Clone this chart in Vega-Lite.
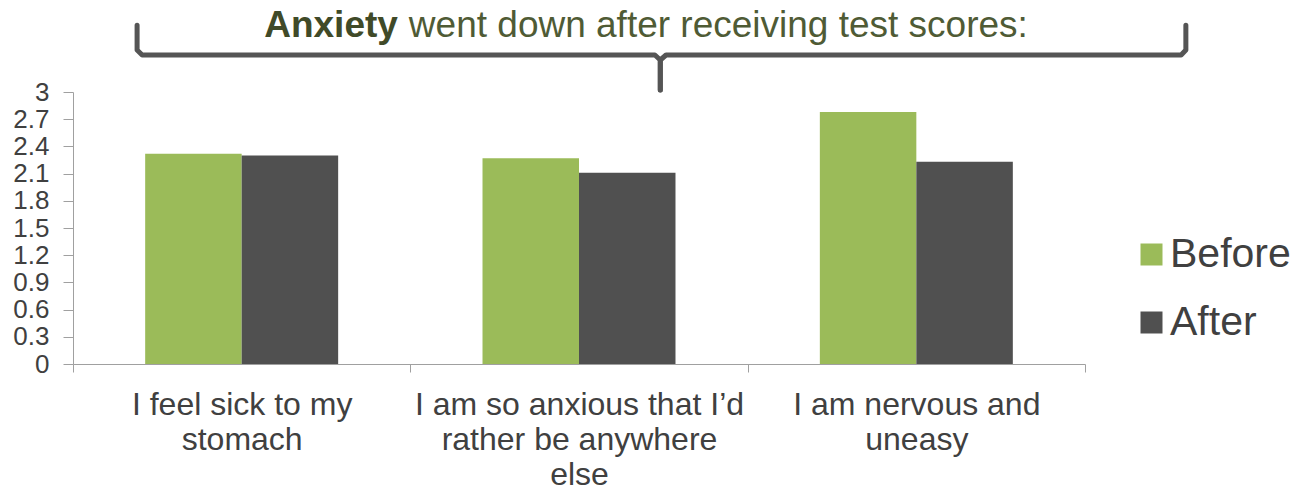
{
  "$schema": "https://vega.github.io/schema/vega-lite/v6.json",
  "autosize": "none",
  "width": 1012,
  "height": 272,
  "padding": {"left": 73, "top": 92, "right": 222, "bottom": 127},
  "background": "white",
  "config": {
    "view": {"stroke": null},
    "font": "Liberation Sans"
  },
  "datasets": {
    "bars": [
      {"item": "I feel sick to my stomach", "when": "Before", "score": 2.32},
      {"item": "I feel sick to my stomach", "when": "After", "score": 2.30},
      {"item": "I am so anxious that I’d rather be anywhere else", "when": "Before", "score": 2.27},
      {"item": "I am so anxious that I’d rather be anywhere else", "when": "After", "score": 2.11},
      {"item": "I am nervous and uneasy", "when": "Before", "score": 2.78},
      {"item": "I am nervous and uneasy", "when": "After", "score": 2.23}
    ],
    "bracket": [
      {"side": "left", "k": 1, "bx": 0.190, "by": 3.735},
      {"side": "left", "k": 2, "bx": 0.190, "by": 3.463},
      {"side": "left", "k": 3, "bx": 0.205, "by": 3.408},
      {"side": "left", "k": 4, "bx": 1.725, "by": 3.408},
      {"side": "left", "k": 5, "bx": 1.741, "by": 3.353},
      {"side": "left", "k": 6, "bx": 1.741, "by": 3.022},
      {"side": "right", "k": 1, "bx": 3.299, "by": 3.735},
      {"side": "right", "k": 2, "bx": 3.299, "by": 3.463},
      {"side": "right", "k": 3, "bx": 3.285, "by": 3.408},
      {"side": "right", "k": 4, "bx": 1.758, "by": 3.408},
      {"side": "right", "k": 5, "bx": 1.741, "by": 3.353},
      {"side": "right", "k": 6, "bx": 1.741, "by": 3.022}
    ],
    "headline": [
      {"part": "bold", "txt": "Anxiety", "tx": 0.966, "ty": 3.607},
      {"part": "plain", "txt": "went down after receiving test scores:", "tx": 0.966, "ty": 3.607}
    ]
  },
  "resolve": {"scale": {"x": "independent", "y": "independent"}, "axis": {"x": "independent", "y": "independent"}},
  "layer": [
    {
      "data": {"name": "bars"},
      "mark": {"type": "bar"},
      "encoding": {
        "x": {
          "field": "item", "type": "nominal", "sort": null,
          "scale": {"paddingInner": 0, "paddingOuter": 0},
          "axis": {
            "title": null,
            "labelAngle": 0,
            "labelFontSize": 32,
            "labelColor": "#404040",
            "labelLineHeight": 35,
            "labelLimit": 400,
            "labelPadding": 17,
            "labelBaseline": "top",
            "labelOverlap": false,
            "tickBand": "extent",
            "tickSize": 8,
            "tickColor": "#A0A0A0",
            "domainColor": "#A0A0A0",
            "labelExpr": "datum.value == 'I feel sick to my stomach' ? ['I feel sick to my', 'stomach'] : datum.value == 'I am nervous and uneasy' ? ['I am nervous and', 'uneasy'] : datum.value == 'I am so anxious that I’d rather be anywhere else' ? ['I am so anxious that I’d', 'rather be anywhere', 'else'] : ''"
          }
        },
        "xOffset": {
          "field": "when", "type": "nominal", "sort": ["Before", "After"],
          "scale": {"paddingOuter": 0.748, "paddingInner": 0}
        },
        "y": {
          "field": "score", "type": "quantitative",
          "scale": {"domain": [0, 3], "nice": false, "zero": true},
          "axis": {
            "title": null,
            "grid": false,
            "values": [0, 0.3, 0.6, 0.9, 1.2, 1.5, 1.8, 2.1, 2.4, 2.7, 3],
            "format": ".1~f",
            "labelOverlap": false,
            "labelFontSize": 26,
            "labelColor": "#404040",
            "labelPadding": 14,
            "tickSize": 10,
            "tickColor": "#A0A0A0",
            "domainColor": "#A0A0A0"
          }
        },
        "color": {
          "field": "when", "type": "nominal",
          "scale": {"domain": ["Before", "After"], "range": ["#9BBB59", "#505050"]},
          "legend": {
            "title": null,
            "orient": "none",
            "legendX": 1058,
            "legendY": 142,
            "symbolType": "square",
            "symbolSize": 484,
            "symbolStrokeWidth": 0,
            "labelFontSize": 41,
            "labelColor": "#404040",
            "labelOffset": -2,
            "rowPadding": 26
          }
        }
      }
    },
    {
      "data": {"name": "bracket"},
      "mark": {"type": "line", "color": "#555555", "strokeWidth": 5, "strokeCap": "round", "strokeJoin": "round", "clip": false},
      "encoding": {
        "x": {"field": "bx", "type": "quantitative", "scale": {"domain": [0, 3], "nice": false, "zero": false}, "axis": null},
        "y": {"field": "by", "type": "quantitative", "scale": {"domain": [0, 3], "nice": false, "zero": true}, "axis": null},
        "detail": {"field": "side"},
        "order": {"field": "k", "type": "quantitative"}
      }
    },
    {
      "data": {"name": "headline"},
      "transform": [{"filter": "datum.part == 'bold'"}],
      "mark": {"type": "text", "align": "right", "baseline": "alphabetic", "fontSize": 37, "fontWeight": "bold", "color": "#404A28", "dx": -1},
      "encoding": {
        "x": {"field": "tx", "type": "quantitative", "scale": {"domain": [0, 3], "nice": false, "zero": false}, "axis": null},
        "y": {"field": "ty", "type": "quantitative", "scale": {"domain": [0, 3], "nice": false, "zero": true}, "axis": null},
        "text": {"field": "txt"}
      }
    },
    {
      "data": {"name": "headline"},
      "transform": [{"filter": "datum.part == 'plain'"}],
      "mark": {"type": "text", "align": "left", "baseline": "alphabetic", "fontSize": 37, "color": "#4F5B35", "dx": 10},
      "encoding": {
        "x": {"field": "tx", "type": "quantitative", "scale": {"domain": [0, 3], "nice": false, "zero": false}, "axis": null},
        "y": {"field": "ty", "type": "quantitative", "scale": {"domain": [0, 3], "nice": false, "zero": true}, "axis": null},
        "text": {"field": "txt"}
      }
    }
  ]
}
